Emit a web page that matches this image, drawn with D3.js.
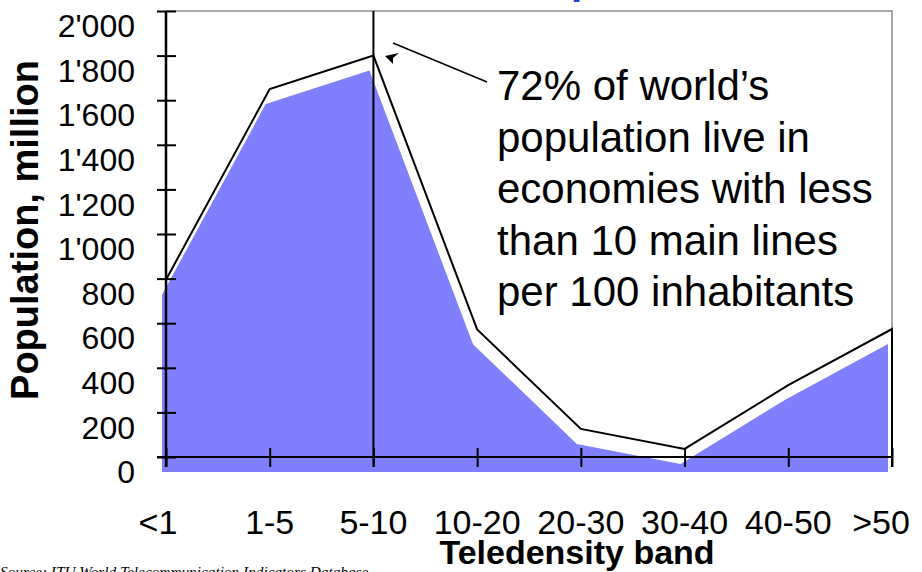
<!DOCTYPE html>
<html>
<head>
<meta charset="utf-8">
<script src="https://cdn.jsdelivr.net/npm/d3@7"></script>
<style>
  html, body { margin: 0; padding: 0; background: #fff; }
  svg { display: block; font-family: "Liberation Sans", Arial, sans-serif; }
</style>
</head>
<body>
<svg id="chart" width="922" height="572"></svg>
<script>
// Population by teledensity band (main lines per 100 inhabitants), millions
const bands = ["<1", "1-5", "5-10", "10-20", "20-30", "30-40", "40-50", ">50"];
const population = [795, 1650, 1800, 572, 126, 36, 322, 574];
const yTicks = [0, 200, 400, 600, 800, 1000, 1200, 1400, 1600, 1800, 2000];
const noteLines = [
  "72% of world\u2019s",
  "population live in",
  "economies with less",
  "than 10 main lines",
  "per 100 inhabitants"
];

const svg = d3.select("#chart");
const fmt = d3.formatLocale({ decimal: ".", thousands: "'", grouping: [3], currency: ["", ""] }).format(",");

// Axis frame scales
const x = d3.scalePoint().domain(bands).range([166, 892]);
const y = d3.scaleLinear().domain([0, 2000]).range([457, 11]);

// Cut-off heading glyph at the very top
svg.append("text")
  .attr("x", 571).attr("y", -6)
  .attr("font-size", 40).attr("font-weight", "bold")
  .attr("fill", "#1540e0")
  .text("p");

// Plot frame
svg.append("rect")
  .attr("x", 166).attr("y", 11)
  .attr("width", 892 - 166).attr("height", 457 - 11)
  .attr("fill", "none").attr("stroke", "#8c8c8c").attr("stroke-width", 1.5);

// Filled population area (drawn in the offset label frame)
const fillLayer = svg.append("g").attr("transform", "translate(-4,15)");
fillLayer.append("path")
  .datum(population)
  .attr("fill", "#8080ff")
  .attr("d", d3.area()
    .x((d, i) => x(bands[i]))
    .y0(y(0))
    .y1(d => y(d)));

// Y tick labels
const yLab = svg.append("g").attr("transform", "translate(0,15)");
yLab.selectAll("text").data(yTicks).join("text")
  .attr("x", 135).attr("y", d => y(d))
  .attr("dy", "0.35em")
  .attr("text-anchor", "end")
  .attr("font-size", 32)
  .text(d => fmt(d));

// X tick labels
const xLab = svg.append("g");
xLab.selectAll("text").data(bands).join("text")
  .attr("x", (d, i) => x(d) + (i === 0 ? -8 : i === bands.length - 1 ? -11 : 0))
  .attr("y", 534)
  .attr("text-anchor", "middle")
  .attr("font-size", 34)
  .text(d => d);

// Population outline, dropping to the baseline at the right end
const linePts = population.map((d, i) => [x(bands[i]), y(d)]);
linePts.push([x(bands[bands.length - 1]), 467]);
svg.append("path")
  .attr("d", d3.line()(linePts))
  .attr("fill", "none").attr("stroke", "#000").attr("stroke-width", 2);

// Axes with crossing ticks
const yAxis = svg.append("g").attr("transform", "translate(166,0)")
  .call(d3.axisLeft(y).tickValues(yTicks).tickFormat("").tickSizeOuter(0));
yAxis.select(".domain").remove();
yAxis.selectAll(".tick line").attr("x1", -9).attr("x2", 10).attr("stroke-width", 2);
svg.append("line").attr("x1", 166).attr("x2", 166).attr("y1", 11).attr("y2", 467)
  .attr("stroke", "#000").attr("stroke-width", 2.5);

const xAxis = svg.append("g").attr("transform", "translate(0,457)")
  .call(d3.axisBottom(x).tickFormat("").tickSizeOuter(0));
xAxis.select(".domain").remove();
xAxis.selectAll(".tick line").attr("y1", -9).attr("y2", 10).attr("stroke-width", 2);
svg.append("line").attr("x1", 157).attr("x2", 892).attr("y1", 457).attr("y2", 457)
  .attr("stroke", "#000").attr("stroke-width", 2);

// Marker at the 10 lines threshold
svg.append("line")
  .attr("x1", x("5-10")).attr("x2", x("5-10"))
  .attr("y1", 11).attr("y2", 467)
  .attr("stroke", "#000").attr("stroke-width", 2);

// Annotation with leader and arrowhead
svg.append("line").attr("x1", 393).attr("y1", 43).attr("x2", 487).attr("y2", 82)
  .attr("stroke", "#000").attr("stroke-width", 1.5);
svg.append("path").attr("d", "M385,56 L399,53 L393,58 L393,64 Z").attr("fill", "#000");

svg.append("text")
  .attr("x", 497).attr("y", 100)
  .attr("font-size", 42)
  .selectAll("tspan").data(noteLines).join("tspan")
  .attr("x", 497).attr("dy", (d, i) => i === 0 ? 0 : 51.5)
  .text(d => d);

// Axis titles
svg.append("text")
  .attr("transform", "translate(38,230) rotate(-90)")
  .attr("text-anchor", "middle")
  .attr("font-size", 38).attr("font-weight", "bold")
  .text("Population, million");

svg.append("text")
  .attr("x", 577).attr("y", 564)
  .attr("text-anchor", "middle")
  .attr("font-size", 34).attr("font-weight", "bold")
  .text("Teledensity band");

// Source note
svg.append("text")
  .attr("x", 0).attr("y", 577)
  .attr("font-family", "'Liberation Serif', 'Times New Roman', serif")
  .attr("font-style", "italic")
  .attr("font-size", 15.3)
  .text("Source: ITU World Telecommunication Indicators Database");
</script>
</body>
</html>
